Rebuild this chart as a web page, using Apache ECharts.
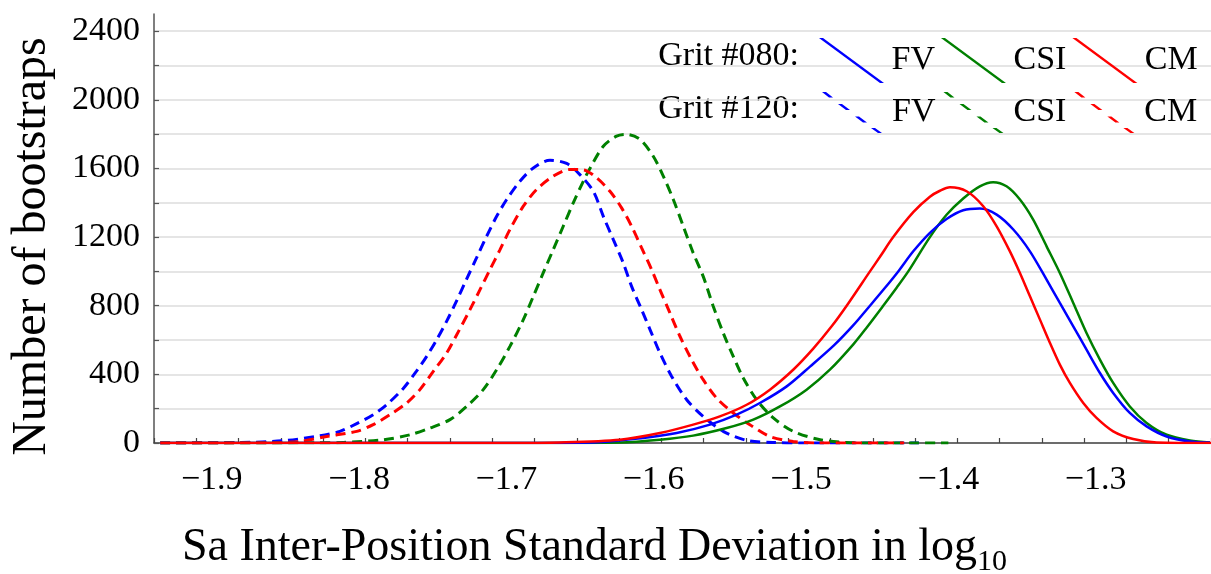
<!DOCTYPE html>
<html>
<head>
<meta charset="utf-8">
<script src="https://cdn.jsdelivr.net/npm/echarts@6/dist/echarts.min.js"></script>
<style>
  html, body { margin: 0; padding: 0; background: #fff; }
  #chart { width: 1211px; height: 574px; }
</style>
</head>
<body>
<div id="chart"></div>
<script>
// axis range and labels
var xMin = -1.9392, xMax = -1.2217;
var xLabels = [-1.9, -1.8, -1.7, -1.6, -1.5, -1.4, -1.3];
var yTicks = [0, 200, 400, 600, 800, 1000, 1200, 1400, 1600, 1800, 2000, 2200, 2400];
var yLabels = [0, 400, 800, 1200, 1600, 2000, 2400];

// Grit #080 (solid)
var fv080X = [-1.935, -1.70, -1.6410, -1.6071, -1.5844, -1.5618, -1.5437, -1.5279, -1.5097, -1.4939, -1.4775, -1.4646, -1.4532, -1.4434, -1.4340, -1.4238, -1.4125, -1.4012, -1.3899, -1.3786, -1.3672, -1.3559, -1.3446, -1.3333, -1.3243, -1.3152, -1.3062, -1.2971, -1.2881, -1.2768, -1.2654, -1.2518, -1.2360, -1.2224];
var fv080Y = [0, 0, 3, 29, 58, 107, 165, 233, 330, 445, 570, 685, 800, 900, 1000, 1117, 1225, 1305, 1356, 1366, 1331, 1244, 1117, 952, 816, 680, 544, 408, 292, 175, 97, 38, 9, 3];
var csi080X = [-1.935, -1.68, -1.6229, -1.5958, -1.5732, -1.5505, -1.5324, -1.5143, -1.4962, -1.4804, -1.4645, -1.4555, -1.4442, -1.4351, -1.4272, -1.4125, -1.4012, -1.3899, -1.3786, -1.3696, -1.3605, -1.3514, -1.3424, -1.3333, -1.3243, -1.3152, -1.3062, -1.2971, -1.2881, -1.2768, -1.2654, -1.2518, -1.2360, -1.2224];
var csi080Y = [0, 0, 3, 19, 43, 87, 136, 213, 311, 427, 575, 672, 800, 905, 1000, 1200, 1330, 1425, 1496, 1520, 1496, 1419, 1302, 1146, 991, 816, 641, 486, 350, 213, 117, 48, 15, 3];
var cm080X = [-1.935, -1.70, -1.6636, -1.6229, -1.5958, -1.5732, -1.5551, -1.5369, -1.5211, -1.5053, -1.4917, -1.4792, -1.4690, -1.4532, -1.4464, -1.4374, -1.4238, -1.4125, -1.4057, -1.3989, -1.3876, -1.3763, -1.3672, -1.3582, -1.3514, -1.3446, -1.3378, -1.3310, -1.3243, -1.3175, -1.3084, -1.2994, -1.2881, -1.2745, -1.2586, -1.2217];
var cm080Y = [0, 0, 3, 19, 58, 107, 155, 223, 311, 427, 550, 680, 800, 1000, 1085, 1200, 1345, 1435, 1470, 1490, 1467, 1380, 1263, 1117, 991, 855, 719, 583, 457, 350, 233, 146, 68, 23, 3, 0];

// Grit #120 (dashed)
var fv120X = [-1.935, -1.88, -1.8514, -1.8265, -1.8130, -1.8016, -1.7904, -1.7813, -1.7700, -1.7609, -1.7541, -1.7473, -1.7405, -1.7337, -1.7270, -1.7202, -1.7134, -1.7066, -1.6998, -1.6908, -1.6817, -1.6704, -1.6591, -1.6501, -1.6410, -1.6342, -1.6274, -1.6207, -1.6150, -1.6082, -1.6025, -1.5958, -1.5878, -1.5776, -1.5664, -1.5528, -1.5369, -1.5191, -1.50, -1.42];
var fv120Y = [0, 3, 13, 42, 68, 113, 165, 223, 318, 420, 505, 602, 710, 830, 955, 1080, 1205, 1321, 1419, 1525, 1603, 1648, 1629, 1564, 1467, 1321, 1185, 1050, 913, 777, 661, 525, 388, 252, 155, 68, 15, 3, 0, 0];
var csi120X = [-1.935, -1.83, -1.8107, -1.7836, -1.7654, -1.7519, -1.7383, -1.7270, -1.7157, -1.7066, -1.6976, -1.6885, -1.6817, -1.6750, -1.6682, -1.6614, -1.6546, -1.6478, -1.6433, -1.6342, -1.6252, -1.6184, -1.6093, -1.6003, -1.5935, -1.5867, -1.5799, -1.5732, -1.5664, -1.5596, -1.5528, -1.5460, -1.5392, -1.5301, -1.5188, -1.5053, -1.4871, -1.4690, -1.45, -1.40];
var csi120Y = [0, 1, 3, 19, 48, 87, 136, 213, 311, 427, 563, 719, 855, 991, 1127, 1263, 1399, 1525, 1600, 1729, 1788, 1798, 1769, 1671, 1555, 1419, 1263, 1108, 971, 797, 641, 505, 379, 252, 146, 68, 19, 3, 0, 0];
var cm120X = [-1.935, -1.86, -1.8401, -1.8220, -1.8016, -1.7904, -1.7790, -1.7677, -1.7587, -1.7496, -1.7405, -1.7337, -1.7247, -1.7179, -1.7111, -1.7043, -1.6976, -1.6885, -1.6795, -1.6682, -1.6568, -1.6478, -1.6387, -1.6297, -1.6218, -1.6150, -1.6082, -1.6014, -1.5958, -1.5890, -1.5822, -1.5743, -1.5664, -1.5573, -1.5460, -1.5347, -1.5211, -1.5053, -1.49, -1.43];
var cm120Y = [0, 2, 9, 38, 68, 107, 165, 233, 311, 418, 525, 631, 777, 894, 1011, 1127, 1244, 1380, 1477, 1555, 1594, 1592, 1545, 1467, 1370, 1263, 1137, 1010, 894, 758, 622, 486, 369, 262, 175, 107, 38, 9, 0, 0];

var FONT = 'Liberation Serif';

function pairs(xs, ys) {
    var out = [];
    for (var i = 0; i < xs.length; i++) {
        out.push([xs[i], ys[i]]);
    }
    return out;
}

function lineSeries(name, xs, ys, color, dashed) {
    return {
        name: name,
        type: 'line',
        data: pairs(xs, ys),
        showSymbol: false,
        smooth: 0.3,
        color: color,
        lineStyle: {
            color: color,
            width: dashed ? 3 : 2.5,
            type: dashed ? [10, 6] : 'solid'
        }
    };
}

// small x-axis ticks: 25 equal steps over the axis
var xTicks = [];
for (var k = 0; k <= 25; k++) {
    xTicks.push(xMin + (xMax - xMin) * k / 25);
}

var solidIcon = 'path://M0,0L4,0L65,45L61,45Z';
var dashIcon = 'path://M0,0L4,0L11,5.5L7,5.5Z M16,12L20,12L28,18L24,18Z M33,24.5L37,24.5L45,30.5L41,30.5Z M49,36L53,36L60,41L56,41Z';

var myChart = echarts.init(document.getElementById('chart'));
var option = {
    animation: false,
    textStyle: { fontFamily: FONT },
    grid: { left: 154, right: 0, top: 14, bottom: 131, outerBoundsMode: 'none', containLabel: false },
    legend: [
        {
            data: ['FV #080', 'CSI #080', 'CM #080'],
            left: 814, top: 33,
            itemWidth: 70, itemHeight: 45, itemGap: 6,
            icon: solidIcon,
            selectedMode: false,
            formatter: function (n) { return n.split(' ')[0]; },
            textStyle: { fontFamily: FONT, fontSize: 34, color: '#000' }
        },
        {
            data: ['FV #120', 'CSI #120', 'CM #120'],
            left: 817, top: 87,
            itemWidth: 70, itemHeight: 41, itemGap: 8,
            icon: dashIcon,
            selectedMode: false,
            formatter: function (n) { return n.split(' ')[0]; },
            textStyle: { fontFamily: FONT, fontSize: 34, color: '#000' }
        }
    ],
    graphic: [
        {
            type: 'text', right: 1211 - 799, top: 39,
            style: { text: 'Grit #080:', font: '34px "Liberation Serif"', fill: '#000' }
        },
        {
            type: 'text', right: 1211 - 799, top: 92,
            style: { text: 'Grit #120:', font: '34px "Liberation Serif"', fill: '#000' }
        }
    ],
    xAxis: {
        type: 'value',
        min: xMin,
        max: xMax,
        name: 'Sa Inter-Position Standard Deviation in log{sub|10}',
        nameLocation: 'middle',
        nameGap: 76,
        nameTextStyle: {
            fontFamily: FONT, fontSize: 46, color: '#000',
            padding: [0, 176, 0, 0],
            rich: { sub: { fontFamily: FONT, fontSize: 30, verticalAlign: 'bottom', padding: [28, 0, 0, 0] } }
        },
        axisLine: { lineStyle: { color: '#444', width: 1.5 } },
        axisTick: { inside: true, length: 5, customValues: xTicks, lineStyle: { color: '#444', width: 1.2 } },
        axisLabel: {
            customValues: xLabels,
            margin: 20,
            fontFamily: FONT, fontSize: 34, color: '#000',
            formatter: function (v) { return String(v).replace('-', '\u2212'); }
        },
        splitLine: { show: false }
    },
    yAxis: {
        type: 'value',
        min: 0,
        max: 2500,
        name: 'Number of bootstraps',
        nameLocation: 'middle',
        nameGap: 98,
        nameTextStyle: { fontFamily: FONT, fontSize: 48, color: '#000', padding: [0, 36, 0, 0] },
        axisLine: { show: true, lineStyle: { color: '#555', width: 1.5 } },
        axisTick: { inside: true, length: 5, customValues: yTicks, lineStyle: { color: '#555', width: 1.2 } },
        axisLabel: {
            customValues: yLabels, margin: 14, fontFamily: FONT, fontSize: 34, color: '#000',
            formatter: function (v) { return String(v); }
        },
        splitLine: { show: true, lineStyle: { color: '#dcdcdc', width: 1.5 } }
    },
    series: [
        lineSeries('FV #120', fv120X, fv120Y, '#0000ff', true),
        lineSeries('CSI #120', csi120X, csi120Y, '#008000', true),
        lineSeries('CM #120', cm120X, cm120Y, '#ff0000', true),
        lineSeries('CSI #080', csi080X, csi080Y, '#008000', false),
        lineSeries('FV #080', fv080X, fv080Y, '#0000ff', false),
        lineSeries('CM #080', cm080X, cm080Y, '#ff0000', false)
    ]
};
myChart.setOption(option);
</script>
</body>
</html>
